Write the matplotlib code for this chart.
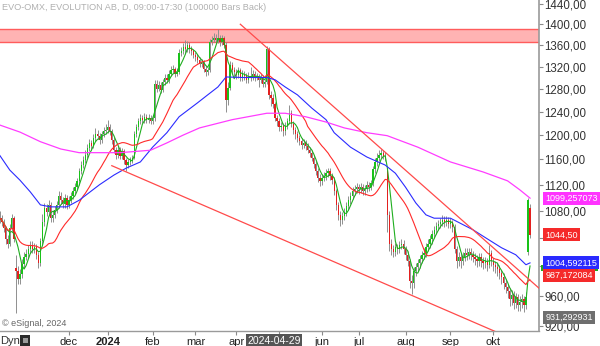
import numpy as np
import pandas as pd
import matplotlib
matplotlib.use('Agg')
import matplotlib.pyplot as plt
from matplotlib.patches import Rectangle
from matplotlib.ticker import FuncFormatter, NullLocator
from matplotlib.transforms import blended_transform_factory

plt.rcParams['font.family'] = ['Liberation Sans', 'DejaVu Sans']

W, H = 600, 346

# Stockholm exchange closed on these weekdays
holidays = ['2023-12-25', '2023-12-26', '2024-01-01', '2024-03-29', '2024-04-01',
            '2024-05-01', '2024-05-09', '2024-06-06', '2024-06-21']
dates = pd.bdate_range('2023-10-16', '2024-10-25')
dates = dates[~dates.isin(pd.to_datetime(holidays))]

closes = [
    1069, 1063, 1054, 1038, 1032, 1054, 1069, 1038, 993, 982,
    989, 1003, 1013, 1017, 1024, 1030, 1024, 1027, 1016, 1004,
    1035, 1063, 1085, 1079, 1089, 1069, 1074, 1082, 1089, 1103,
    1097, 1090, 1100, 1089, 1097, 1103, 1110, 1116, 1125, 1141,
    1151, 1159, 1168, 1179, 1187, 1182, 1195, 1202, 1199, 1192,
    1201, 1206, 1209, 1213, 1206, 1192, 1176, 1168, 1176, 1166,
    1173, 1159, 1151, 1156, 1159, 1163, 1201, 1213, 1223, 1229,
    1226, 1231, 1226, 1229, 1224, 1228, 1289, 1280, 1287, 1278,
    1292, 1300, 1296, 1307, 1314, 1316, 1307, 1310, 1345, 1348,
    1356, 1352, 1361, 1352, 1348, 1341, 1337, 1332, 1325, 1328,
    1316, 1310, 1314, 1365, 1370, 1374, 1370, 1373, 1365, 1373,
    1361, 1260, 1282, 1323, 1314, 1310, 1305, 1314, 1300, 1307,
    1303, 1296, 1303, 1300, 1307, 1300, 1303, 1296, 1300, 1289,
    1292, 1352, 1268, 1264, 1253, 1229, 1223, 1213, 1216, 1206,
    1216, 1223, 1238, 1219, 1209, 1201, 1195, 1190, 1184, 1187,
    1182, 1176, 1170, 1163, 1153, 1141, 1131, 1125, 1131, 1134,
    1138, 1141, 1134, 1128, 1110, 1089, 1074, 1067, 1073, 1079,
    1088, 1097, 1103, 1110, 1113, 1116, 1113, 1116, 1110, 1113,
    1119, 1116, 1122, 1144, 1156, 1163, 1168, 1170, 1166, 1163,
    1074, 1031, 1024, 1020, 1027, 1024, 1030, 1032, 1024, 1016,
    1007, 979, 977, 993, 999, 1004, 1010, 1016, 1019, 1027,
    1032, 1038, 1046, 1052, 1058, 1061, 1063, 1067, 1063, 1067,
    1061, 1063, 1056, 1024, 1007, 1013, 1007, 1013, 1019, 1016,
    1020, 1016, 1013, 1010, 1007, 1013, 1007, 1004, 1007, 1001,
    1019, 1007, 1001, 999, 996, 990, 985, 977, 971, 966,
    955, 961, 950, 958, 947, 952, 955, 947, 958, 1097,
    1044.5,
]
highs = [
    1080, 1074, 1068, 1058, 1045, 1060, 1076, 1072, 1015, 1000,
    996, 1010, 1020, 1024, 1030, 1036, 1035, 1033, 1031, 1020,
    1040, 1075, 1092, 1091, 1096, 1093, 1082, 1088, 1095, 1110,
    1108, 1101, 1106, 1104, 1103, 1109, 1116, 1122, 1131, 1147,
    1158, 1166, 1175, 1186, 1194, 1192, 1201, 1212, 1208, 1203,
    1207, 1213, 1218, 1226, 1218, 1210, 1196, 1180, 1182, 1180,
    1179, 1177, 1163, 1161, 1164, 1168, 1206, 1219, 1229, 1236,
    1234, 1238, 1235, 1235, 1234, 1234, 1296, 1295, 1294, 1292,
    1298, 1307, 1306, 1313, 1321, 1323, 1320, 1317, 1352, 1356,
    1364, 1370, 1368, 1366, 1358, 1353, 1347, 1343, 1338, 1334,
    1332, 1321, 1320, 1372, 1378, 1384, 1382, 1390, 1380, 1380,
    1378, 1366, 1292, 1330, 1328, 1320, 1316, 1320, 1318, 1313,
    1312, 1308, 1310, 1320, 1313, 1311, 1309, 1307, 1306, 1304,
    1298, 1358, 1356, 1275, 1270, 1256, 1234, 1228, 1222, 1221,
    1222, 1229, 1252, 1243, 1224, 1213, 1206, 1200, 1195, 1193,
    1192, 1187, 1181, 1175, 1168, 1157, 1146, 1136, 1137, 1140,
    1144, 1147, 1146, 1139, 1132, 1114, 1093, 1080, 1079, 1085,
    1094, 1103, 1109, 1116, 1119, 1122, 1121, 1122, 1121, 1119,
    1125, 1124, 1128, 1150, 1162, 1170, 1175, 1177, 1176, 1172,
    1146, 1080, 1038, 1030, 1033, 1032, 1036, 1038, 1037, 1029,
    1021, 1010, 988, 999, 1005, 1010, 1016, 1022, 1025, 1033,
    1038, 1044, 1052, 1058, 1064, 1067, 1069, 1074, 1072, 1073,
    1071, 1069, 1067, 1060, 1029, 1020, 1018, 1020, 1026, 1025,
    1026, 1025, 1021, 1018, 1015, 1019, 1018, 1013, 1013, 1012,
    1030, 1023, 1012, 1007, 1005, 1001, 995, 990, 982, 976,
    970, 968, 966, 964, 962, 960, 962, 960, 965, 1100,
    1090,
]
lows = [
    1062, 1058, 1048, 1032, 1026, 1028, 1050, 1034, 937, 975,
    976, 984, 998, 1008, 1012, 1019, 1019, 1018, 1010, 998,
    1000, 1030, 1058, 1072, 1074, 1063, 1064, 1069, 1077, 1085,
    1091, 1084, 1085, 1083, 1084, 1092, 1098, 1105, 1111, 1120,
    1136, 1146, 1154, 1163, 1174, 1176, 1178, 1190, 1193, 1186,
    1187, 1196, 1201, 1204, 1200, 1186, 1170, 1161, 1163, 1160,
    1161, 1152, 1142, 1146, 1151, 1154, 1160, 1196, 1208, 1218,
    1220, 1221, 1220, 1221, 1218, 1219, 1224, 1274, 1275, 1272,
    1274, 1287, 1290, 1291, 1302, 1309, 1301, 1302, 1306, 1340,
    1343, 1346, 1347, 1346, 1342, 1335, 1331, 1326, 1319, 1319,
    1310, 1303, 1304, 1310, 1360, 1365, 1363, 1364, 1358, 1360,
    1355, 1240, 1252, 1278, 1306, 1302, 1298, 1299, 1293, 1294,
    1296, 1290, 1291, 1294, 1295, 1294, 1295, 1283, 1290, 1283,
    1283, 1288, 1262, 1250, 1246, 1223, 1216, 1206, 1206, 1199,
    1200, 1210, 1218, 1213, 1202, 1194, 1188, 1183, 1177, 1178,
    1175, 1170, 1164, 1157, 1146, 1135, 1124, 1118, 1119, 1125,
    1128, 1132, 1128, 1121, 1104, 1082, 1066, 1058, 1060, 1066,
    1073, 1082, 1091, 1098, 1104, 1107, 1106, 1107, 1104, 1104,
    1108, 1110, 1111, 1118, 1139, 1150, 1158, 1162, 1160, 1157,
    1049, 1022, 1016, 1013, 1014, 1017, 1018, 1024, 1017, 1009,
    1000, 970, 962, 970, 986, 993, 998, 1004, 1010, 1013,
    1021, 1026, 1032, 1040, 1046, 1052, 1055, 1057, 1056, 1057,
    1055, 1054, 1049, 1018, 998, 1000, 998, 1001, 1007, 1009,
    1010, 1009, 1006, 1002, 999, 1000, 999, 996, 997, 993,
    997, 1000, 994, 991, 987, 982, 976, 969, 963, 957,
    946, 948, 942, 944, 940, 940, 944, 938, 942, 1015,
    1040,
]
# open = previous close, except on the gap days
first_open = 1072
gap_opens = {8: 997, 190: 1141, 259: 1020, 260: 1085}

# 50 and 200 day averages (bar index, value)
blue_bars = [0, 5, 10, 15, 20, 25, 33, 39, 49, 56, 62, 69, 75, 82, 88, 97, 102, 107, 111,
             120, 131, 135, 140, 146, 153, 160, 164, 172, 180, 189, 194, 199, 204, 209,
             213, 221, 232, 240, 246, 253, 258, 260]
blue_vals = [1167, 1143, 1127, 1109, 1089, 1086, 1086, 1096, 1120, 1135, 1146, 1156, 1180,
             1204, 1231, 1255, 1269, 1283, 1301, 1300, 1300, 1296, 1283, 1269, 1246, 1226,
             1204, 1180, 1164, 1151, 1138, 1116, 1092, 1074, 1069, 1069, 1052, 1037, 1026,
             1016, 1002, 1004.6]
magenta_bars = [0, 10, 20, 30, 39, 49, 59, 74, 82, 90, 98, 114, 131, 140, 150, 160, 169,
                180, 190, 205, 221, 237, 249, 255, 260]
magenta_vals = [1217, 1205, 1189, 1177, 1171, 1171, 1171, 1175, 1187, 1200, 1212, 1226,
                1237, 1237, 1231, 1222, 1212, 1204, 1199, 1180, 1156, 1140, 1126, 1112,
                1099.26]

# drawn trend lines and resistance zone
upper_line = ([118, 266], [1400, 966])
lower_line = ([55, 244], [1150, 912])
zone = (1366, 1391)

tick_months = ['2023-12', '2024-01', '2024-02', '2024-03', '2024-04', '2024-05',
               '2024-06', '2024-07', '2024-08', '2024-09', '2024-10']
tick_names = ['dec', '2024', 'feb', 'mar', 'apr', '', 'jun', 'jul', 'aug', 'sep', 'okt']
price_ticks = [920, 960, 1000, 1040, 1080, 1120, 1160, 1200, 1240, 1280, 1320, 1360, 1400, 1440]
covered_ticks = [1000, 1040]   # hidden behind the value tags

tag_values = [1099.257073, 1044.50, 1004.592115, 987.172084, 931.292931]
tag_texts = ['1099,257073', '1044,50', '1004,592115', '987,172084', '931,292931']
tag_colors = ['#ff33ff', '#f52a2a', '#2a2aff', '#f52a2a', '#6e6e6e']
green_tag = (993, 1001)   # mostly hidden green tag of the short average

assert len(closes) == len(highs) == len(lows) == len(dates)

opens = [first_open] + closes[:-1]
for k, v in gap_opens.items():
    opens[k] = v
o = np.array(opens, float)
c = np.array(closes, float)
x = np.arange(len(c))

s = pd.Series(c)
ma_green = s.rolling(5, min_periods=1).mean()
ma_red = s.rolling(20, min_periods=1).mean()


def px(xp, yp):
    return xp / W, 1 - yp / H


def price_fmt(v, p):
    if round(v) in covered_ticks:
        return ''
    return f'{v:.2f}'.replace('.', ',')


fig = plt.figure(figsize=(W / 100, H / 100), dpi=100)
ax = fig.add_axes([0, 15 / H, 539 / W, 331 / H])
ax.set_yscale('log')
ax.set_xlim(0.2, 264.4)
ax.set_ylim(913.8, 1448)

ax.axhspan(zone[0], zone[1], color='#ffb3b3', lw=0, zorder=1)
ax.axhline(zone[0], color='#ff5c5c', lw=1, zorder=1.1)
ax.axhline(zone[1], color='#ff5c5c', lw=1, zorder=1.1)

# candles
ax.vlines(x, lows, highs, color='#8f8f8f', lw=0.7, zorder=2)
up = c >= o
body = np.maximum(np.abs(c - o), 0.8)
ax.bar(x, body, bottom=np.minimum(o, c), width=0.62,
       color=np.where(up, '#19c219', '#e3201f'), lw=0, zorder=3)

ax.plot(x, ma_green, color='#1fae1f', lw=0.8, zorder=4)
ax.plot(x, ma_red, color='#ff2a2a', lw=0.8, zorder=4)
ax.plot(blue_bars, blue_vals, color='#2b2bff', lw=0.8, zorder=4)
ax.plot(magenta_bars, magenta_vals, color='#ff3cff', lw=0.9, zorder=4)

ax.plot(*upper_line, color='#ff4a4a', lw=0.9, zorder=5)
ax.plot(*lower_line, color='#ff4a4a', lw=0.9, zorder=5)

# axes look
for side in ['top', 'left']:
    ax.spines[side].set_visible(False)
ax.spines['right'].set_color('#9a9a9a')
ax.spines['right'].set_linewidth(1.2)
ax.spines['bottom'].set_color('#9a9a9a')
ax.spines['bottom'].set_linewidth(1.0)

ax.yaxis.tick_right()
ax.yaxis.set_minor_locator(NullLocator())
ax.set_yticks(price_ticks)
ax.yaxis.set_major_formatter(FuncFormatter(price_fmt))
ax.tick_params(axis='y', direction='out', length=3, width=0.8, color='#8a8a8a',
               labelsize=8.3, labelcolor='#333333', pad=1)

month_first = pd.Series(np.arange(len(dates)), index=dates).groupby(dates.to_period('M')).first()
tick_pos = [month_first[pd.Period(m, 'M')] for m in tick_months]
ax.set_xticks(tick_pos, tick_names)
ax.tick_params(axis='x', direction='out', length=3, width=0.8, color='#8a8a8a',
               labelsize=8, labelcolor='#222222', pad=1.5)
for lab in ax.get_xticklabels():
    if lab.get_text() == '2024':
        lab.set_fontweight('bold')

# value tags on the price scale
tr = blended_transform_factory(ax.transAxes, ax.transData)
ax.add_patch(Rectangle((1.004, green_tag[0]), 0.106, green_tag[1] - green_tag[0],
                       transform=tr, facecolor='#22aa22', edgecolor='none',
                       clip_on=False, zorder=9))
for i, (val, txt, col) in enumerate(zip(tag_values, tag_texts, tag_colors)):
    ax.annotate(txt, xy=(1.0, val), xycoords=tr, xytext=(4.5, 0), textcoords='offset points',
                ha='left', va='center', fontsize=6.5, color='white', annotation_clip=False,
                zorder=10 + i,
                bbox=dict(boxstyle='square,pad=0.22', facecolor=col, edgecolor='none'))

fig.text(*px(2, 7), 'EVO-OMX, EVOLUTION AB, D, 09:00-17:30 (100000 Bars Back)',
         fontsize=6.6, color='#b0b0b0', va='center', ha='left')
fig.text(*px(2, 323), '\u00a9 eSignal, 2024', fontsize=6.5, color='#666666', va='center')
fig.text(*px(0, 341), 'Dyn', fontsize=8, color='#333333', va='center')
fig.add_artist(Rectangle(px(20, 346), 10 / W, 11 / H, transform=fig.transFigure,
                         facecolor='#2a2a2a', edgecolor='none'))
fig.add_artist(Rectangle(px(22.5, 343), 5 / W, 5 / H, transform=fig.transFigure,
                         facecolor='#9a9a9a', edgecolor='none'))
fig.text(*px(274, 341), '2024-04-29', fontsize=7.5, color='white', ha='center', va='center',
         bbox=dict(boxstyle='square,pad=0.15', facecolor='#555555', edgecolor='none'))

fig.savefig('out.png', dpi=100)
